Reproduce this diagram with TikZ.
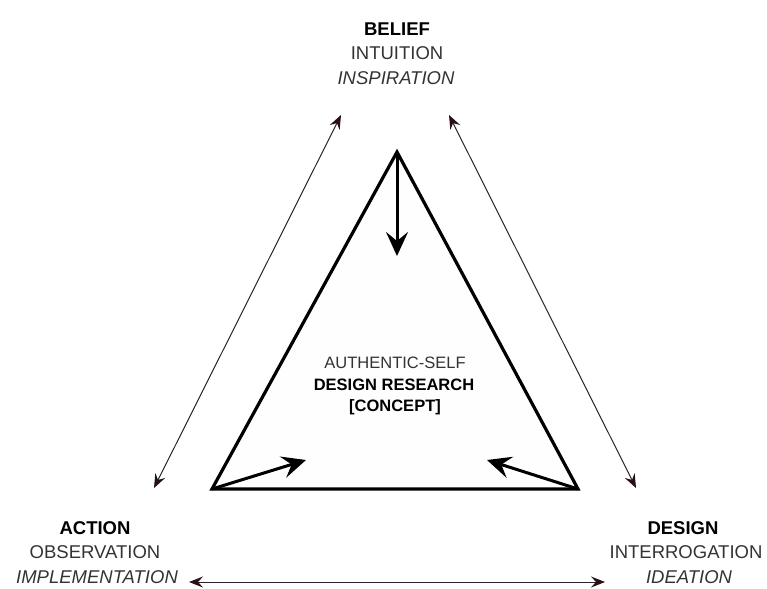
\documentclass[tikz,border=0pt]{standalone}
\usepackage{fontspec}
\setmainfont{Liberation Sans}
\usetikzlibrary{arrows.meta}
\definecolor{tipc}{HTML}{2A1014}
\definecolor{txt}{HTML}{333333}
\tikzset{
  tri/.style={line width=3.2pt, line join=miter, fill=black!0.4},
  inarrow/.style={line width=3pt, -{Stealth[length=24pt,width=22pt,inset=9pt]}, draw=black},
  outarrow/.style={line width=1pt, draw=black!85, {Stealth[length=14pt,width=11pt,inset=5pt,color=tipc]}-{Stealth[length=14pt,width=11pt,inset=5pt,color=tipc]}},
  lbl/.style={font=\fontsize{18.5pt}{23pt}\selectfont, text=txt, align=center, inner sep=0pt},
  clbl/.style={font=\fontsize{16.5pt}{21pt}\selectfont, text=txt, align=center, inner sep=0pt}
}
\begin{document}
\begin{tikzpicture}[x=1pt,y=-1pt]
\useasboundingbox (0,0) rectangle (767,588);
\coordinate (apex) at (397,152);
\coordinate (bl) at (212,489);
\coordinate (br) at (578,489);
\draw[tri] (apex) -- (bl) -- (br) -- cycle;
\coordinate (a1) at (397,256);
\coordinate (a2) at (306,460);
\coordinate (a3) at (487,460);
\draw[inarrow] (apex) -- (a1);
\draw[inarrow] (bl) -- (a2);
\draw[inarrow] (br) -- (a3);
\coordinate (l1) at (154,488);
\coordinate (l2) at (341,115);
\coordinate (r1) at (449,115);
\coordinate (r2) at (636,488);
\coordinate (b1) at (189,582);
\coordinate (b2) at (605,582);
\draw[outarrow] (l1) -- (l2);
\draw[outarrow] (r1) -- (r2);
\draw[outarrow] (b1) -- (b2);
\node[lbl, text=black] (belief) at (397,29) {\textbf{BELIEF}};
\node[lbl] (intuition) at (397,53) {INTUITION};
\node[lbl] (inspiration) at (396,78) {\textit{INSPIRATION}};
\node[lbl, text=black] (action) at (95,528) {\textbf{ACTION}};
\node[lbl] (observation) at (95,552) {OBSERVATION};
\node[lbl] (implementation) at (97,577) {\textit{IMPLEMENTATION}};
\node[lbl, text=black] (design) at (683,528) {\textbf{DESIGN}};
\node[lbl] (interrogation) at (686,552) {INTERROGATION};
\node[lbl] (ideation) at (689,577) {\textit{IDEATION}};
\node[clbl] (auth) at (395,363) {AUTHENTIC-SELF};
\node[clbl, text=black] (dr) at (394,385) {\textbf{DESIGN RESEARCH}};
\node[clbl, text=black] (concept) at (395,407) {\textbf{[CONCEPT]}};
\end{tikzpicture}
\end{document}
